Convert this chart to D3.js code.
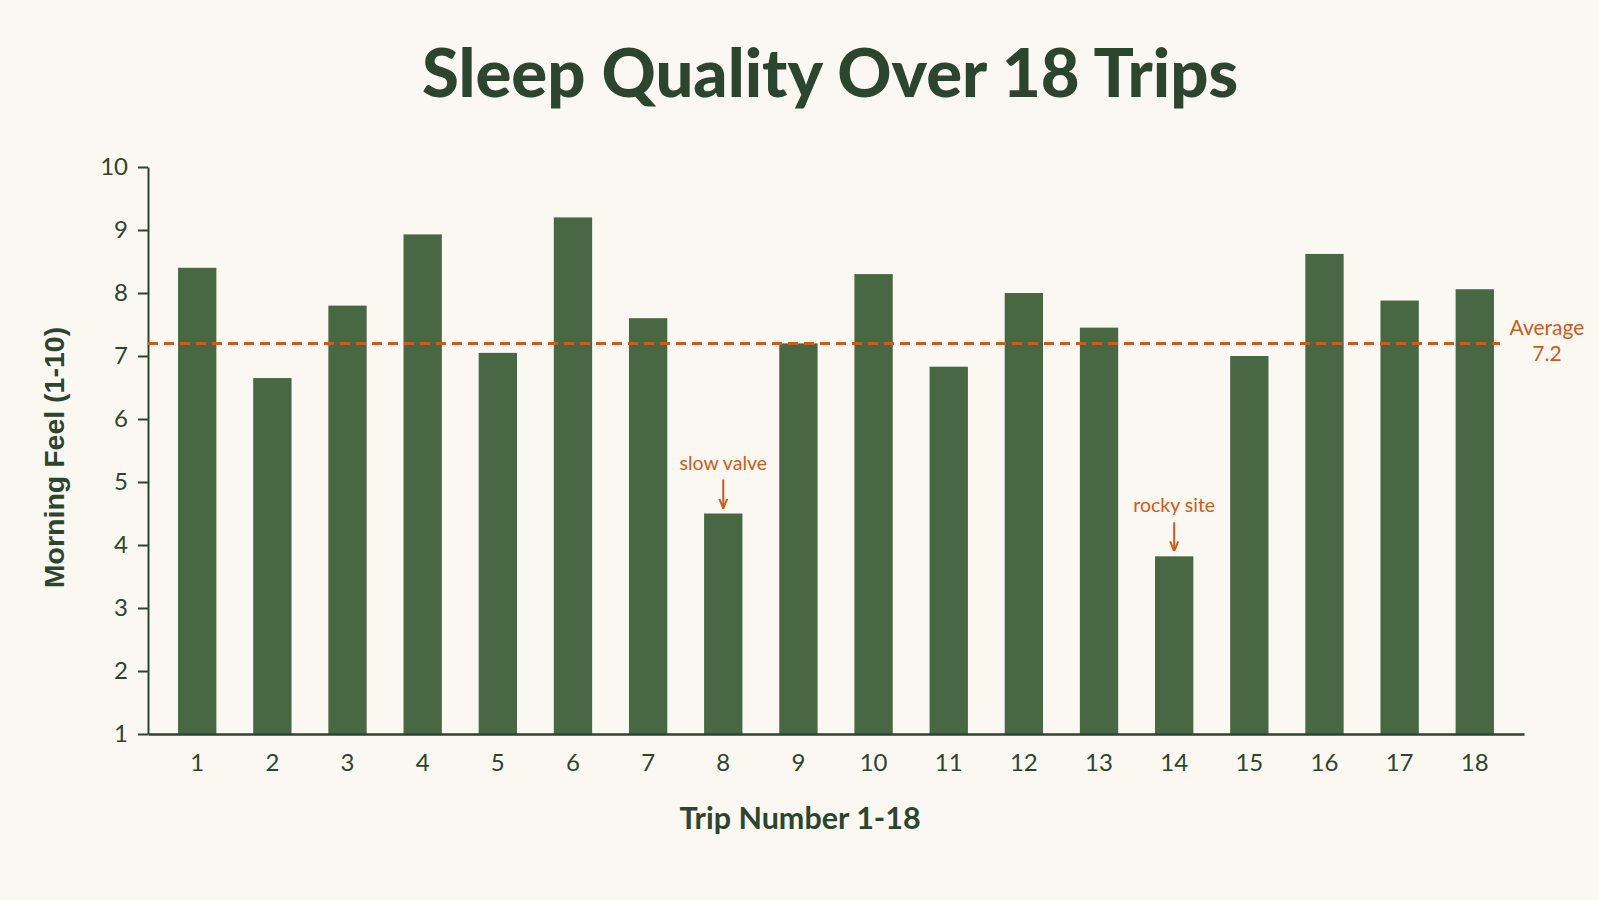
<!DOCTYPE html>
<html>
<head>
<meta charset="utf-8">
<script src="https://cdn.jsdelivr.net/npm/d3@7/dist/d3.min.js"></script>
<style>
  html, body { margin: 0; padding: 0; background: #faf8f1; }
  svg { display: block; }
</style>
</head>
<body>
<svg id="chart" width="1599" height="900"></svg>
<script>
const trips = ["1","2","3","4","5","6","7","8","9","10","11","12","13","14","15","16","17","18"];
const scores = [8.4, 6.65, 7.8, 8.93, 7.05, 9.2, 7.6, 4.5, 7.2, 8.3, 6.83, 8.0, 7.45, 3.82, 7.0, 8.62, 7.88, 8.06];
const averageValue = 7.2;
const yTicks = [1,2,3,4,5,6,7,8,9,10];
const annotations = [
  { trip: "8", text: "slow valve" },
  { trip: "14", text: "rocky site" }
];
const titleText = "Sleep Quality Over 18 Trips";
const xLabel = "Trip Number 1-18";
const yLabel = "Morning Feel (1-10)";

(function () {
const W = 1599, H = 900;
const mLeft = 148, mRight = 1524, mTop = 167, mBottom = 734;
const green = "#476843", dark = "#2c452f", orange = "#cf5a1c";

const svg = d3.select("#chart");
svg.append("rect").attr("width", W).attr("height", H).attr("fill", "#faf8f1");

const x = d3.scaleBand().domain(trips).range([mLeft, mRight]).paddingInner(0.49).paddingOuter(0.40);
const y = d3.scaleLinear().domain([1, 10]).range([mBottom, mTop]);

// title
svg.append("text").attr("x", 830).attr("y", 97).attr("text-anchor", "middle")
  .attr("font-family", "Lato, sans-serif").attr("font-weight", 900).attr("font-size", 67)
  .attr("fill", dark).text(titleText);

// bars
svg.append("g").selectAll("rect").data(scores).join("rect")
  .attr("x", (d, i) => x(trips[i])).attr("width", x.bandwidth())
  .attr("y", d => y(d)).attr("height", d => y(1) - y(d))
  .attr("fill", green);

// y axis
const ya = svg.append("g").attr("transform", `translate(${mLeft},0)`)
  .call(d3.axisLeft(y).tickValues(yTicks).tickSize(10).tickPadding(10).tickSizeOuter(0).tickFormat(d3.format("d")));
ya.select(".domain").attr("stroke", dark).attr("stroke-width", 2);
ya.selectAll(".tick line").attr("stroke", dark).attr("stroke-width", 2);
ya.selectAll(".tick text").attr("font-family", "Lato, sans-serif").attr("font-size", 24).attr("fill", dark);

// x axis
const xa = svg.append("g").attr("transform", `translate(0,${mBottom})`)
  .call(d3.axisBottom(x).tickSize(0).tickPadding(20).tickSizeOuter(0));
xa.select(".domain").attr("stroke", dark).attr("stroke-width", 2.5);
xa.selectAll(".tick text").attr("font-family", "Lato, sans-serif").attr("font-size", 24).attr("fill", dark);

// average line
svg.append("line").attr("x1", mLeft).attr("x2", 1500)
  .attr("y1", y(averageValue)).attr("y2", y(averageValue))
  .attr("stroke", orange).attr("stroke-width", 3).attr("stroke-dasharray", "10,6");
svg.append("text").attr("x", 1547).attr("y", y(averageValue) - 8).attr("text-anchor", "middle")
  .attr("font-family", "Lato, sans-serif").attr("font-size", 21).attr("fill", orange).text("Average");
svg.append("text").attr("x", 1547).attr("y", y(averageValue) + 18).attr("text-anchor", "middle")
  .attr("font-family", "Lato, sans-serif").attr("font-size", 21).attr("fill", orange).text(averageValue.toFixed(1));

// annotations
svg.append("defs").append("marker").attr("id", "arr").attr("viewBox", "0 0 10 10")
  .attr("refX", 9).attr("refY", 5).attr("markerWidth", 5).attr("markerHeight", 5)
  .attr("markerUnits", "strokeWidth").attr("orient", "auto")
  .append("path").attr("d", "M0,1 L10,5 L0,9").attr("fill", "none").attr("stroke", orange).attr("stroke-width", 2);
annotations.forEach(a => {
  const i = trips.indexOf(a.trip);
  const cx = x(a.trip) + x.bandwidth() / 2;
  const ty = y(scores[i]);
  svg.append("line").attr("x1", cx).attr("x2", cx).attr("y1", ty - 34).attr("y2", ty - 6)
    .attr("stroke", orange).attr("stroke-width", 2).attr("marker-end", "url(#arr)");
  svg.append("text").attr("x", cx).attr("y", ty - 44).attr("text-anchor", "middle")
    .attr("font-family", "Lato, sans-serif").attr("font-size", 19.5).attr("fill", orange).text(a.text);
});

// axis labels
svg.append("text").attr("x", 800).attr("y", 829).attr("text-anchor", "middle")
  .attr("font-family", "Lato, sans-serif").attr("font-weight", 700).attr("font-size", 30.5)
  .attr("fill", dark).text(xLabel);
svg.append("text").attr("transform", `translate(64,${(mTop + mBottom) / 2 + 7}) rotate(-90)`)
  .attr("text-anchor", "middle")
  .attr("font-family", "'Liberation Sans', Arial, sans-serif").attr("font-weight", 700).attr("font-size", 28.5)
  .attr("fill", dark).text(yLabel);
})();
</script>
</body>
</html>
